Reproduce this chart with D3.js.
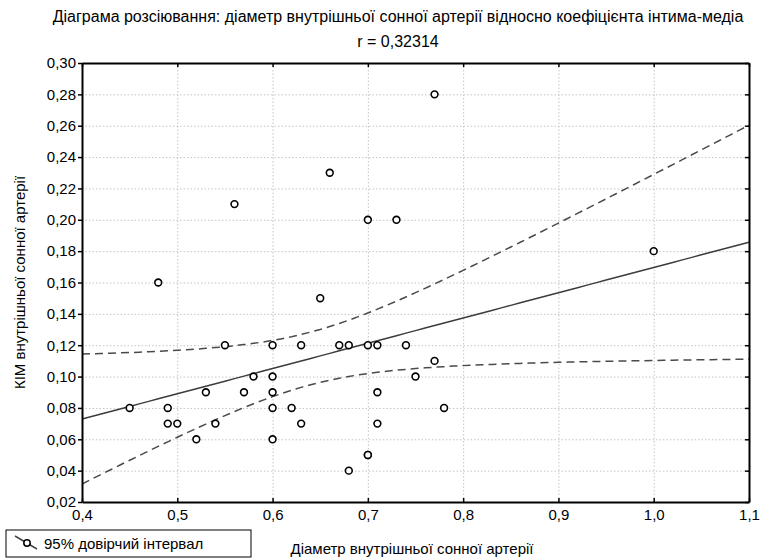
<!DOCTYPE html>
<html>
<head>
<meta charset="utf-8">
<script src="https://cdn.jsdelivr.net/npm/d3@7"></script>
<style>
  body { margin: 0; background: #fff; }
  text { font-family: Arial, "Liberation Sans", sans-serif; fill: #000; }
</style>
</head>
<body>
<svg id="chart" width="763" height="559"></svg>
<script>
// data (0,70 / 0,05 is drawn twice, overlapping)
const diameter = [0.45, 0.48, 0.49, 0.49, 0.50, 0.52, 0.53, 0.54, 0.55, 0.56,
                  0.57, 0.58, 0.60, 0.60, 0.60, 0.60, 0.60, 0.62, 0.63, 0.63,
                  0.65, 0.66, 0.67, 0.68, 0.68, 0.70, 0.70, 0.70, 0.70, 0.71,
                  0.71, 0.71, 0.73, 0.74, 0.75, 0.77, 0.77, 0.78, 1.00];
const kim = [0.08, 0.16, 0.08, 0.07, 0.07, 0.06, 0.09, 0.07, 0.12, 0.21,
             0.09, 0.10, 0.12, 0.10, 0.09, 0.08, 0.06, 0.08, 0.12, 0.07,
             0.15, 0.23, 0.12, 0.12, 0.04, 0.20, 0.12, 0.05, 0.05, 0.12,
             0.09, 0.07, 0.20, 0.12, 0.10, 0.28, 0.11, 0.08, 0.18];
const xTicks = [0.4, 0.5, 0.6, 0.7, 0.8, 0.9, 1.0, 1.1];
const yTicks = [0.02, 0.04, 0.06, 0.08, 0.10, 0.12, 0.14, 0.16, 0.18, 0.20, 0.22, 0.24, 0.26, 0.28, 0.30];
const titleText = "Діаграма розсіювання: діаметр внутрішньої сонної артерії відносно коефіцієнта інтима-медіа";
const rText = "r = 0,32314";
const xLabel = "Діаметр внутрішньої сонної артерії";
const yLabel = "КІМ внутрішньої сонної артерії";
const legendText = "95% довірчий інтервал";
const tCrit = 2.026; // t(0.975; df = 37)

const margin = { top: 63, right: 14, bottom: 57, left: 82 };
const W = 763, H = 559;
const w = W - margin.left - margin.right;
const h = H - margin.top - margin.bottom;

const svg = d3.select("#chart");
const g = svg.append("g").attr("transform", `translate(${margin.left},${margin.top})`);

const x = d3.scaleLinear().domain([0.4, 1.1]).range([0, w]);
const y = d3.scaleLinear().domain([0.02, 0.30]).range([h, 0]);
const comma = f => v => d3.format(f)(v).replace(".", ",");

// grid
g.append("g").attr("class", "grid")
  .call(d3.axisBottom(x).tickValues(xTicks).tickSize(h).tickFormat(""))
  .call(s => s.select(".domain").remove());
g.append("g").attr("class", "grid")
  .call(d3.axisLeft(y).tickValues(yTicks).tickSize(-w).tickFormat(""))
  .call(s => s.select(".domain").remove());
g.selectAll(".grid line").attr("stroke", "#c4c4c4").attr("stroke-dasharray", "1.5,2");

// regression + confidence band
const n = diameter.length;
const mx = d3.mean(diameter), my = d3.mean(kim);
const sxx = d3.sum(diameter, v => (v - mx) ** 2);
const sxy = d3.sum(diameter, (v, i) => (v - mx) * (kim[i] - my));
const b = sxy / sxx, a = my - b * mx;
const sse = d3.sum(diameter, (v, i) => (kim[i] - (a + b * v)) ** 2);
const se = Math.sqrt(sse / (n - 2));
const xs = d3.range(0.4, 1.1001, 0.01);
const half = v => tCrit * se * Math.sqrt(1 / n + (v - mx) ** 2 / sxx);

svg.append("clipPath").attr("id", "clip")
  .append("rect").attr("width", w).attr("height", h);
const plot = g.append("g").attr("clip-path", "url(#clip)");

const line = d3.line().x(d => x(d[0])).y(d => y(d[1]));
plot.append("path")
  .attr("d", line(xs.map(v => [v, a + b * v])))
  .attr("fill", "none").attr("stroke", "#3c3c3c").attr("stroke-width", 1.5);
[1, -1].forEach(sign => {
  plot.append("path")
    .attr("d", line(xs.map(v => [v, a + b * v + sign * half(v)])))
    .attr("fill", "none").attr("stroke", "#4a4a4a").attr("stroke-width", 1.5)
    .attr("stroke-dasharray", "8,5");
});

// points
g.selectAll("circle.pt")
  .data(diameter)
  .join("circle")
  .attr("class", "pt")
  .attr("cx", d => x(d))
  .attr("cy", (d, i) => y(kim[i]))
  .attr("r", 3.4)
  .attr("fill", "#fff")
  .attr("stroke", "#000")
  .attr("stroke-width", 1.6);

// axes
const fontSize = "15px";
const axBottom = g.append("g").attr("transform", `translate(0,${h})`)
  .call(d3.axisBottom(x).tickValues(xTicks).tickFormat(comma(".1f")).tickSize(-4).tickSizeOuter(0).tickPadding(7));
const axLeft = g.append("g")
  .call(d3.axisLeft(y).tickValues(yTicks).tickFormat(comma(".2f")).tickSize(4).tickSizeOuter(0).tickPadding(2));
const axTop = g.append("g")
  .call(d3.axisTop(x).tickValues(xTicks).tickFormat("").tickSize(-4).tickSizeOuter(0));
const axRight = g.append("g").attr("transform", `translate(${w},0)`)
  .call(d3.axisRight(y).tickValues(yTicks).tickFormat("").tickSize(-4).tickSizeOuter(0));
[axBottom, axLeft, axTop, axRight].forEach(ax => {
  ax.select(".domain").attr("stroke", "#000").attr("stroke-width", 2);
  ax.selectAll(".tick line").attr("stroke", "#000").attr("stroke-width", 1.5);
  ax.selectAll("text").attr("font-size", fontSize).attr("font-family", null).attr("fill", "#000");
});

// titles
svg.append("text").attr("x", 398).attr("y", 22).attr("text-anchor", "middle")
  .attr("font-size", "16px").text(titleText);
svg.append("text").attr("x", 398).attr("y", 47).attr("text-anchor", "middle")
  .attr("font-size", "16px").text(rText);
svg.append("text").attr("x", 412).attr("y", 554).attr("text-anchor", "middle")
  .attr("font-size", "15px").text(xLabel);
svg.append("text").attr("transform", `translate(25,${margin.top + h / 2}) rotate(-90)`)
  .attr("text-anchor", "middle").attr("font-size", "15px").text(yLabel);

// legend
const lg = svg.append("g").attr("transform", "translate(6,530)");
lg.append("rect").attr("width", 245).attr("height", 27)
  .attr("fill", "#fff").attr("stroke", "#000").attr("stroke-width", 1);
lg.append("line").attr("x1", 9).attr("y1", 6).attr("x2", 31).attr("y2", 19)
  .attr("stroke", "#444").attr("stroke-width", 1.5);
lg.append("circle").attr("cx", 21).attr("cy", 13).attr("r", 3.2)
  .attr("fill", "#fff").attr("stroke", "#000").attr("stroke-width", 1.5);
lg.append("text").attr("x", 38).attr("y", 19).attr("font-size", "15px").text(legendText);
</script>
</body>
</html>
